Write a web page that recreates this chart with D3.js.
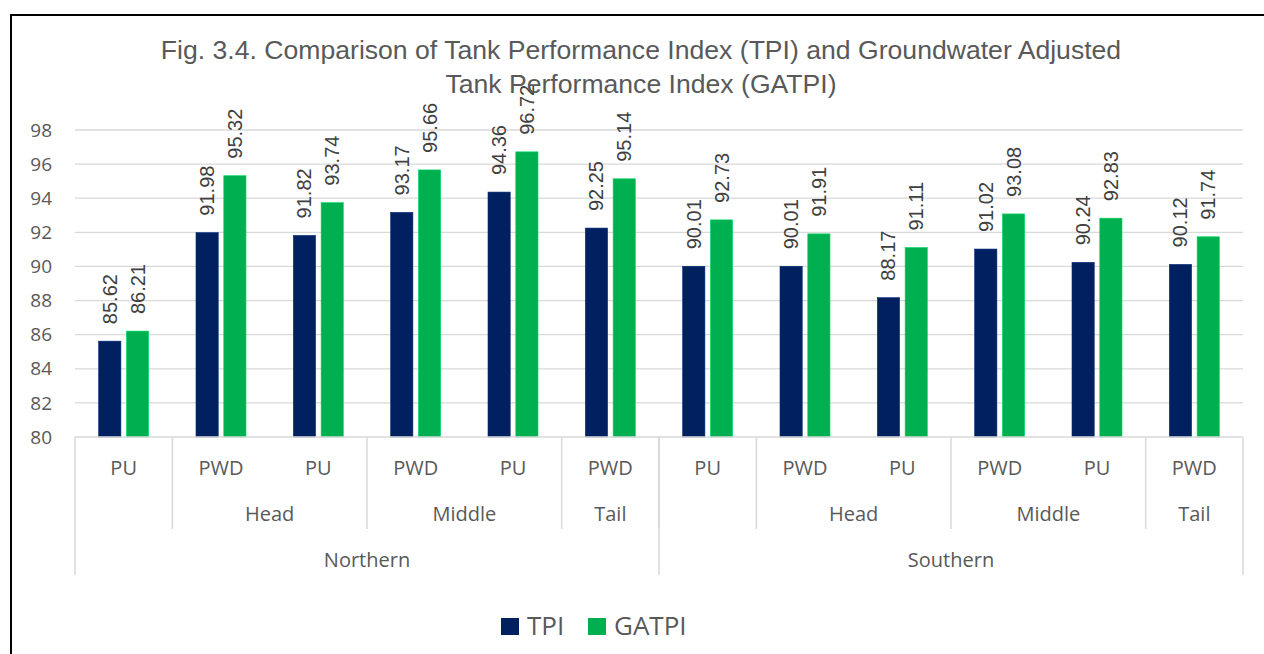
<!DOCTYPE html>
<html>
<head>
<meta charset="utf-8">
<script src="https://cdn.jsdelivr.net/npm/d3@7"></script>
<style>
  body { margin: 0; background: #fff; }
  svg { display: block; }
</style>
</head>
<body>
<svg id="chart" width="1264" height="654"></svg>
<script>
// categories (three level axis)
const regions = ["Northern", "Southern"];
const positions = ["", "Head", "Head", "Middle", "Middle", "Tail"];
const types = ["PU", "PWD", "PU", "PWD", "PU", "PWD"];

// series values, Northern then Southern
const tpi = [85.62, 91.98, 91.82, 93.17, 94.36, 92.25,
             90.01, 90.01, 88.17, 91.02, 90.24, 90.12];
const gatpi = [86.21, 95.32, 93.74, 95.66, 96.72, 95.14,
               92.73, 91.91, 91.11, 93.08, 92.83, 91.74];

const yTicks = [80, 82, 84, 86, 88, 90, 92, 94, 96, 98];

const series = [
  { name: "TPI", values: tpi, color: "#002060" },
  { name: "GATPI", values: gatpi, color: "#00B050" }
];

const cats = [];
regions.forEach((r, ri) => {
  types.forEach((t, i) => {
    cats.push({ id: ri * types.length + i, region: r, pos: positions[i], type: t });
  });
});

const svg = d3.select("#chart");
const plotL = 75, plotR = 1243, plotT = 130, plotB = 437;

const x = d3.scaleBand()
  .domain(cats.map(d => d.id))
  .range([plotL, plotR]);

const xs = d3.scaleBand()
  .domain(series.map(s => s.name))
  .range([0, 50])
  .paddingInner(0.2);

const y = d3.scaleLinear()
  .domain([80, 98])
  .range([plotB, plotT]);

// outer frame
svg.append("rect")
  .attr("x", 11).attr("y", 15)
  .attr("width", 1270).attr("height", 700)
  .attr("fill", "none")
  .attr("stroke", "#000")
  .attr("stroke-width", 2);

// gridlines
svg.append("g")
  .selectAll("line")
  .data(yTicks.slice(1))
  .join("line")
  .attr("x1", plotL).attr("x2", plotR)
  .attr("y1", d => y(d)).attr("y2", d => y(d))
  .attr("stroke", "#d9d9d9")
  .attr("stroke-width", 1.3);

// y axis labels
svg.append("g")
  .selectAll("text")
  .data(yTicks)
  .join("text")
  .attr("x", 52)
  .attr("y", d => y(d))
  .attr("dy", "0.35em")
  .attr("text-anchor", "end")
  .attr("font-family", "'Open Sans', sans-serif")
  .attr("font-size", 19)
  .attr("fill", "#595959")
  .text(d => d);

// bars
const groups = svg.append("g")
  .selectAll("g")
  .data(cats)
  .join("g")
  .attr("transform", d => `translate(${x(d.id) + (x.bandwidth() - 50) / 2},0)`);

groups.selectAll("rect")
  .data(d => series.map(s => ({ s: s, v: s.values[d.id] })))
  .join("rect")
  .attr("x", d => xs(d.s.name))
  .attr("width", xs.bandwidth())
  .attr("y", d => y(d.v))
  .attr("height", d => y(80) - y(d.v))
  .attr("fill", d => d.s.color)
  .attr("stroke", d => d3.color(d.s.color).brighter(0.6))
  .attr("stroke-width", 0.6);

// data labels, rotated
groups.selectAll("text")
  .data(d => series.map(s => ({ s: s, v: s.values[d.id] })))
  .join("text")
  .attr("transform", d => `translate(${xs(d.s.name) + xs.bandwidth() / 2},${y(d.v) - 17}) rotate(-90)`)
  .attr("dy", "0.35em")
  .attr("font-family", "'Liberation Sans', Arial, sans-serif")
  .attr("font-size", 20)
  .attr("fill", "#404040")
  .text(d => d.v.toFixed(2));

// x axis line
const axisColor = "#d9d9d9";
svg.append("line")
  .attr("x1", plotL).attr("x2", plotR)
  .attr("y1", plotB).attr("y2", plotB)
  .attr("stroke", axisColor).attr("stroke-width", 1.5);

// level-1 labels
svg.append("g")
  .selectAll("text")
  .data(cats)
  .join("text")
  .attr("x", d => x(d.id) + x.bandwidth() / 2)
  .attr("y", 468)
  .attr("dy", "0.35em")
  .attr("text-anchor", "middle")
  .attr("font-family", "'Open Sans', sans-serif")
  .attr("font-size", 20)
  .attr("fill", "#595959")
  .text(d => d.type);

// level-2 groups (position)
const posGroups = [];
cats.forEach(d => {
  const last = posGroups[posGroups.length - 1];
  if (last && last.region === d.region && last.pos === d.pos) last.ids.push(d.id);
  else posGroups.push({ region: d.region, pos: d.pos, ids: [d.id] });
});

svg.append("g")
  .selectAll("text")
  .data(posGroups.filter(g => g.pos))
  .join("text")
  .attr("x", g => (x(g.ids[0]) + x(g.ids[g.ids.length - 1]) + x.bandwidth()) / 2)
  .attr("y", 514)
  .attr("dy", "0.35em")
  .attr("text-anchor", "middle")
  .attr("font-family", "'Open Sans', sans-serif")
  .attr("font-size", 20)
  .attr("fill", "#595959")
  .text(g => g.pos);

// separators between level-2 groups
svg.append("g")
  .selectAll("line")
  .data(posGroups.slice(1))
  .join("line")
  .attr("x1", g => x(g.ids[0])).attr("x2", g => x(g.ids[0]))
  .attr("y1", plotB).attr("y2", 529)
  .attr("stroke", axisColor).attr("stroke-width", 1.5);

// level-3 groups (region)
const regionGroups = regions.map(r => ({ region: r, ids: cats.filter(c => c.region === r).map(c => c.id) }));

svg.append("g")
  .selectAll("text")
  .data(regionGroups)
  .join("text")
  .attr("x", g => (x(g.ids[0]) + x(g.ids[g.ids.length - 1]) + x.bandwidth()) / 2)
  .attr("y", 560)
  .attr("dy", "0.35em")
  .attr("text-anchor", "middle")
  .attr("font-family", "'Open Sans', sans-serif")
  .attr("font-size", 20)
  .attr("fill", "#595959")
  .text(g => g.region);

const regionEdges = [plotL, ...regionGroups.map(g => x(g.ids[g.ids.length - 1]) + x.bandwidth())];
svg.append("g")
  .selectAll("line")
  .data(regionEdges)
  .join("line")
  .attr("x1", d => d).attr("x2", d => d)
  .attr("y1", plotB).attr("y2", 575)
  .attr("stroke", axisColor).attr("stroke-width", 1.5);

// title
const title = svg.append("text")
  .attr("text-anchor", "middle")
  .attr("font-family", "'Liberation Sans', Arial, sans-serif")
  .attr("font-size", 26.6)
  .attr("fill", "#595959");
title.append("tspan").attr("x", 641).attr("y", 59)
  .text("Fig. 3.4. Comparison of Tank Performance Index (TPI) and Groundwater Adjusted");
title.append("tspan").attr("x", 641).attr("y", 93)
  .text("Tank Performance Index (GATPI)");

// legend
const legend = svg.append("g").attr("transform", "translate(501,626)");
const lx = [0, 87];
series.forEach((s, i) => {
  const g = legend.append("g").attr("transform", `translate(${lx[i]},0)`);
  g.append("rect").attr("x", 0).attr("y", -8).attr("width", 18).attr("height", 17).attr("fill", s.color);
  g.append("text").attr("x", 26).attr("y", 0).attr("dy", "0.36em")
    .attr("font-family", "'Open Sans', sans-serif")
    .attr("font-size", 26)
    .attr("fill", "#595959")
    .text(s.name);
});
</script>
</body>
</html>
